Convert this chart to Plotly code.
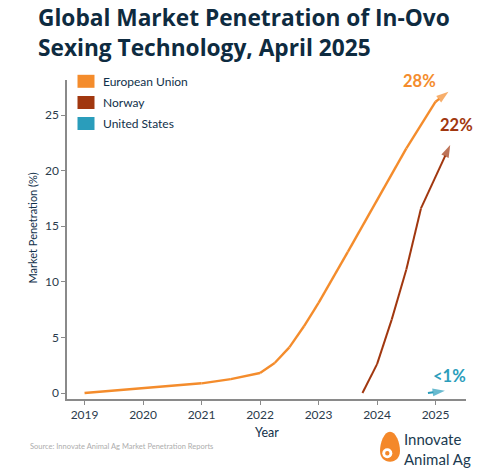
import plotly.graph_objects as go

# ---------------- data ----------------
eu_years = [2019, 2020, 2020.5, 2021, 2021.5, 2022, 2022.25, 2022.5, 2022.75, 2023,
            2023.5, 2024, 2024.5, 2025, 2025.22]
eu_values = [0.0, 0.42, 0.63, 0.87, 1.25, 1.8, 2.7, 4.1, 6.0, 8.1,
             12.7, 17.4, 22.0, 26.2, 27.1]

no_years = [2023.75, 2024, 2024.25, 2024.5, 2024.75, 2025.25]
no_values = [0.0, 2.6, 6.6, 11.1, 16.6, 22.3]

us_years = [2024.87, 2025.16]
us_values = [0.0, 0.2]

series_names = ["European Union", "Norway", "United States"]
end_labels = ["28%", "22%", "<1%"]
x_ticks = [2019, 2020, 2021, 2022, 2023, 2024, 2025]
y_ticks = [0, 5, 10, 15, 20, 25]

# ---------------- style ----------------
colors = ["#F48C2C", "#A1370F", "#2A9DBB"]
navy = "#10304A"
axis_text = "#2B3B4C"
FONT = "Lato"

fig = go.Figure()

def add_series(xs, ys, name, color, width):
    sizes = [0] * (len(xs) - 1) + [13]
    fig.add_trace(go.Scatter(
        x=xs, y=ys, name=name, mode="lines+markers",
        line=dict(color=color, width=width),
        marker=dict(symbol="arrow", angleref="previous", size=sizes, color=color,
                    line=dict(width=0)),
        showlegend=False, cliponaxis=False,
        hovertemplate=name + ": %{y:.1f}%<extra></extra>",
    ))

add_series(eu_years, eu_values, series_names[0], colors[0], 2.4)
add_series(no_years, no_values, series_names[1], colors[1], 2.0)
add_series(us_years, us_values, series_names[2], colors[2], 2.0)

# end labels
label_pos = [(2024.73, 28.1), (2025.36, 24.1), (2025.24, 1.55)]
for (lx, ly), txt, c in zip(label_pos, end_labels, colors):
    fig.add_annotation(x=lx, y=ly, xref="x", yref="y", text="<b>%s</b>" % txt,
                       showarrow=False, font=dict(family=FONT, size=16.5, color=c),
                       xanchor="center", yanchor="middle")

# Plot area in pixels: x 67..466, y 80..399
L, R, T, B = 67, 466, 80, 399
W, H = 500, 474
def px(xp):
    return (xp - L) / (R - L)
def py(yp):
    return (B - yp) / (B - T)

# manual legend (squares + text)
legend_rows = [81.3, 102.5, 123.5]
for name, c, yc in zip(series_names, colors, legend_rows):
    fig.add_shape(type="rect", xref="paper", yref="paper",
                  x0=px(77.5), x1=px(94.5), y0=py(yc + 6.5), y1=py(yc - 6.5),
                  fillcolor=c, line=dict(width=0))
    fig.add_annotation(xref="paper", yref="paper", x=px(100.5), y=py(yc),
                       text=name, showarrow=False, xanchor="left", yanchor="middle",
                       font=dict(family=FONT, size=12, color=navy))

# axis titles
fig.add_annotation(xref="paper", yref="paper", x=px(31.5), y=py(228),
                   text="Market Penetration (%)", textangle=-90, showarrow=False,
                   xanchor="center", yanchor="middle",
                   font=dict(family=FONT, size=11, color=navy))
fig.add_annotation(xref="paper", yref="paper", x=px(266.5), y=py(433),
                   text="Year", showarrow=False, xanchor="center", yanchor="middle",
                   font=dict(family=FONT, size=12.5, color=navy))

# source note
fig.add_annotation(xref="paper", yref="paper", x=px(28), y=py(446.7),
                   text="Source: Innovate Animal Ag Market Penetration Reports",
                   showarrow=False, xanchor="left", yanchor="middle",
                   font=dict(family=FONT, size=7.5, color="#ADADAD"))

# logo: egg + gear + text
egg_path = ("M 0,15 C 6,15 10,4 10,-4 C 10,-11 5.5,-15 0,-15 "
            "C -5.5,-15 -10,-11 -10,-4 C -10,4 -6,15 0,15 Z")
fig.add_shape(type="path", xref="paper", yref="paper",
              xsizemode="pixel", ysizemode="pixel",
              xanchor=px(390), yanchor=py(446.7), path=egg_path,
              fillcolor="#F4882A", line=dict(width=0))
fig.add_shape(type="circle", xref="paper", yref="paper",
              xsizemode="pixel", ysizemode="pixel",
              xanchor=px(387.3), yanchor=py(453.3),
              x0=-5, x1=5, y0=-5, y1=5, fillcolor="white", line=dict(width=0))
fig.add_shape(type="circle", xref="paper", yref="paper",
              xsizemode="pixel", ysizemode="pixel",
              xanchor=px(387.3), yanchor=py(453.3),
              x0=-2.2, x1=2.2, y0=-2.2, y1=2.2, fillcolor="#F4882A", line=dict(width=0))
fig.add_annotation(xref="paper", yref="paper", x=px(402), y=py(448.8),
                   text="Innovate<br>Animal Ag", showarrow=False,
                   xanchor="left", yanchor="middle", align="left",
                   font=dict(family=FONT, size=15, color="#1B3A50"))

fig.update_layout(
    width=W, height=H,
    margin=dict(l=L, r=W - R, t=T, b=H - B, pad=0),
    paper_bgcolor="white", plot_bgcolor="white",
    font=dict(family=FONT, color=axis_text),
    title=dict(text="<b>Global Market Penetration of In-Ovo<br>Sexing Technology, April 2025</b>",
               xref="container", yref="container", x=38 / W, xanchor="left",
               y=1 - 26 / H, yanchor="top",
               font=dict(family="Open Sans", size=22.7, color="#0E2B40")),
    xaxis=dict(range=[2018.70, 2025.52], tickvals=x_ticks, ticktext=[str(t) for t in x_ticks],
               showgrid=False, zeroline=False, showline=True, linecolor="#8A8A8A", linewidth=1.5,
               ticks="outside", ticklen=4, tickcolor="#8A8A8A",
               tickfont=dict(family=FONT, size=12, color=axis_text)),
    yaxis=dict(range=[-0.54, 28.15], tickvals=y_ticks,
               showgrid=False, zeroline=False, showline=True, linecolor="#8A8A8A", linewidth=1.5,
               ticks="outside", ticklen=4, tickcolor="#8A8A8A",
               tickfont=dict(family=FONT, size=12, color=axis_text)),
    showlegend=False,
)

fig.write_html("out.html", config={"displayModeBar": False},
               post_script="document.body.style.margin='0';document.body.style.padding='0';")
